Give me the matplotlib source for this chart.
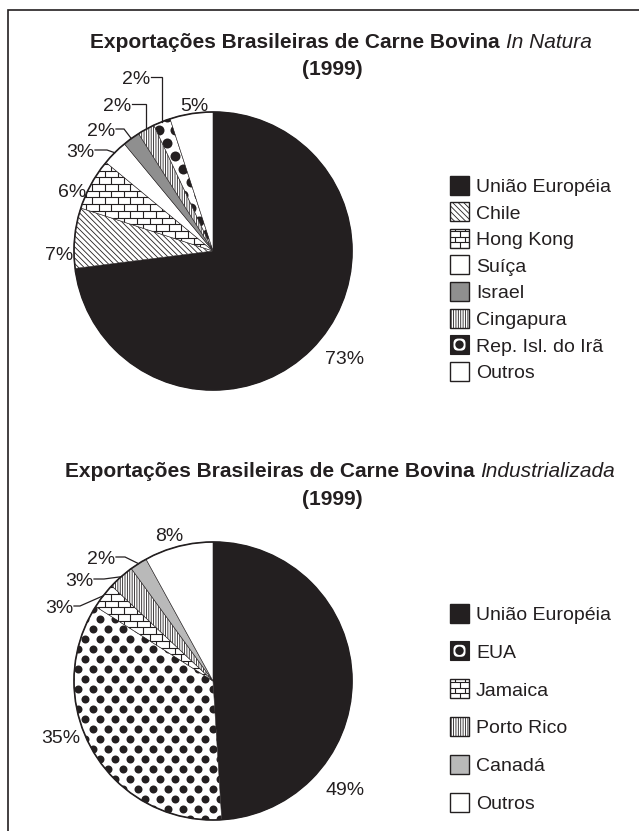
import numpy as np
import matplotlib
matplotlib.use("Agg")
import matplotlib.pyplot as plt
from matplotlib.collections import LineCollection
from matplotlib.patches import Circle, Rectangle, FancyBboxPatch

plt.rcParams["font.family"] = ["Liberation Sans", "DejaVu Sans"]
plt.rcParams["hatch.linewidth"] = 0.6

INK = "#231f20"

# carne in natura, 1999 (%)
natura_names = ["União Européia", "Chile", "Hong Kong", "Suíça", "Israel",
                "Cingapura", "Rep. Isl. do Irã", "Outros"]
natura_values = [73, 7, 6, 3, 2, 2, 2, 5]

# carne industrializada, 1999 (%)
indust_names = ["União Européia", "EUA", "Jamaica", "Porto Rico", "Canadá", "Outros"]
indust_values = [49, 35, 3, 3, 2, 8]

# fill style of each destination
STYLE = {
    "União Européia": ("solid", INK),
    "Chile": ("hatch", "\\" * 6),
    "Hong Kong": ("brick", None),
    "Jamaica": ("brick", None),
    "Suíça": ("solid", "white"),
    "Outros": ("solid", "white"),
    "Israel": ("solid", "#8f8f8f"),
    "Canadá": ("solid", "#b9b9b9"),
    "Cingapura": ("hatch", "|" * 7),
    "Porto Rico": ("hatch", "|" * 7),
    "Rep. Isl. do Irã": ("dots", (16, 13, 10)),
    "EUA": ("dots", (15, 10, 8)),
}

W, H = 639, 831
R = 139          # pie radius in pixels
PAD = 1.04
FS = 14


def brick_segments(x0, x1, y0, y1, bw, bh):
    segs = []
    for k in np.arange(np.floor(y0 / bh) - 1, np.ceil(y1 / bh) + 1):
        y = k * bh
        segs.append([(x0, y), (x1, y)])
        off = (k % 2) * bw / 2
        for x in np.arange(np.floor(x0 / bw) * bw - bw + off, x1 + bw, bw):
            segs.append([(x, y), (x, y + bh)])
    return segs


def dot_grid(x0, x1, y0, y1, dx, dy):
    pts = []
    for k, y in enumerate(np.arange(y0, y1 + dy, dy)):
        off = (k % 2) * dx / 2
        for x in np.arange(x0 + off, x1 + dx, dx):
            pts.append((x, y))
    return np.array(pts)


def fill_patch(ax, patch, name, scale, lw=0.8):
    """Apply the destination's fill to a patch; scale = pixels per data unit."""
    kind, arg = STYLE[name]
    patch.set_facecolor("white")
    if kind == "solid":
        patch.set_facecolor(arg)
    elif kind == "hatch":
        patch.set_hatch(arg)
    elif kind == "brick":
        x0, y0, x1, y1 = patch.get_path().get_extents(patch.get_patch_transform()).extents
        lc = LineCollection(brick_segments(x0, x1, y0, y1, 12.7 / scale, 6.7 / scale),
                            colors=INK, linewidths=lw, zorder=patch.get_zorder() + 0.1)
        ax.add_collection(lc)
        lc.set_clip_path(patch)
    elif kind == "dots":
        dx, dy, dia = arg
        x0, y0, x1, y1 = patch.get_path().get_extents(patch.get_patch_transform()).extents
        pts = dot_grid(x0 - 1, x1, y0 - 1, y1, dx / scale, dy / scale)
        sc = ax.scatter(pts[:, 0], pts[:, 1], s=(dia * 0.72) ** 2, c=INK,
                        linewidths=0, zorder=patch.get_zorder() + 0.1)
        sc.set_clip_path(patch)


def draw_pie(fig, cx, cy, names, values):
    half = R * PAD
    ax = fig.add_axes([(cx - half) / W, 1 - (cy + half) / H, 2 * half / W, 2 * half / H])
    wedges, _ = ax.pie(values, startangle=90, counterclock=False,
                       wedgeprops=dict(linewidth=0.4, edgecolor=INK))
    ax.set_xlim(-PAD, PAD)
    ax.set_ylim(-PAD, PAD)
    ax.axis("off")
    for w, name in zip(wedges, names):
        fill_patch(ax, w, name, R)
    ax.add_patch(Circle((0, 0), 1, fill=False, lw=1.2, ec=INK, zorder=5))
    return ax


def arc_point(values, i, cx, cy):
    total = sum(values)
    mid = (sum(values[:i]) + values[i] / 2) / total
    a = np.deg2rad(90 - 360 * mid)
    return cx + R * np.cos(a), cy - R * np.sin(a)


def pct_label(ax, x, y, v):
    ax.text(x, y + 7, f"{v}%", fontsize=FS, ha="center", va="baseline", color=INK)


def leader(ax, values, i, cx, cy, lx, ly, corner):
    ex, ey = arc_point(values, i, cx, cy)
    sx = lx + 15
    kx = ex if corner is None else sx + corner
    ax.plot([sx, kx, ex], [ly, ly, ey], color=INK, lw=0.9, solid_joinstyle="miter")


def mixed_title(ax, renderer, cx, y, bold, italic):
    t1 = ax.text(0, y, bold, fontsize=15, fontweight="bold", ha="left", va="baseline", color=INK)
    t2 = ax.text(0, y, italic, fontsize=15, fontstyle="italic", ha="left", va="baseline", color=INK)
    w1 = t1.get_window_extent(renderer).width
    w2 = t2.get_window_extent(renderer).width
    gap = 5.5
    x0 = cx - (w1 + gap + w2) / 2
    t1.set_x(x0)
    t2.set_x(x0 + w1 + gap)


def legend(ax, names, x, y0, step):
    size = 19
    for k, name in enumerate(names):
        yc = y0 + k * step
        kind, arg = STYLE[name]
        if kind == "dots":
            ax.add_patch(Rectangle((x, yc - size / 2), size, size, fc=INK, ec=INK, lw=0.8))
            ax.add_patch(FancyBboxPatch((x + 3.5, yc - size / 2 + 3.5), size - 7, size - 7,
                                        boxstyle="round,pad=0,rounding_size=4.5",
                                        fc="white", ec="none"))
            ax.add_patch(Circle((x + size / 2, yc), 4.2, fc=INK, ec="none"))
        else:
            sq = Rectangle((x, yc - size / 2), size, size, fc="white", ec=INK, lw=1.0, zorder=3)
            ax.add_patch(sq)
            if kind == "brick":
                lc = LineCollection(brick_segments(x, x + size, yc - size / 2, yc + size / 2, 10, 5.5),
                                    colors=INK, linewidths=0.8, zorder=3.1)
                ax.add_collection(lc)
                lc.set_clip_path(sq)
            else:
                fill_patch(ax, sq, name, 1)
        ax.text(x + 26, yc + 7, name, fontsize=FS, ha="left", va="baseline", color=INK)


fig = plt.figure(figsize=(W / 100, H / 100), dpi=100)
fig.patch.set_facecolor("white")

top_cx, top_cy = 213, 251
bot_cx, bot_cy = 213, 681
draw_pie(fig, top_cx, top_cy, natura_names, natura_values)
draw_pie(fig, bot_cx, bot_cy, indust_names, indust_values)

ov = fig.add_axes([0, 0, 1, 1], zorder=10)
ov.set_xlim(0, W)
ov.set_ylim(H, 0)
ov.axis("off")
renderer = fig.canvas.get_renderer()

# frame (left and top edges)
ov.plot([8, 8, W], [H, 10, 10], color=INK, lw=1.2, solid_joinstyle="miter")

mixed_title(ov, renderer, 341, 48, "Exportações Brasileiras de Carne Bovina", "In Natura")
ov.text(332, 75, "(1999)", fontsize=15, fontweight="bold", ha="center", va="baseline", color=INK)
mixed_title(ov, renderer, 340, 477, "Exportações Brasileiras de Carne Bovina", "Industrializada")
ov.text(332, 505, "(1999)", fontsize=15, fontweight="bold", ha="center", va="baseline", color=INK)

# percentage labels: position and optional leader corner offset
natura_pos = [(345, 357, False), (59, 253, False), (72, 190, False), (80, 150, 12),
              (101, 129, 8), (117, 104, None), (136, 77, None), (194, 104, False)]
for i, (lx, ly, corner) in enumerate(natura_pos):
    pct_label(ov, lx, ly, natura_values[i])
    if corner is not False:
        leader(ov, natura_values, i, top_cx, top_cy, lx, ly, corner)

indust_pos = [(345, 788, False), (61, 736, False), (59, 606, 6), (79, 579, 10),
              (101, 557, 9), (169, 534, False)]
for i, (lx, ly, corner) in enumerate(indust_pos):
    pct_label(ov, lx, ly, indust_values[i])
    if corner is not False:
        leader(ov, indust_values, i, bot_cx, bot_cy, lx, ly, corner)

legend(ov, natura_names, 450, 185, 26.6)
legend(ov, indust_names, 450, 613, 37.8)

fig.savefig("out.png", dpi=100)
